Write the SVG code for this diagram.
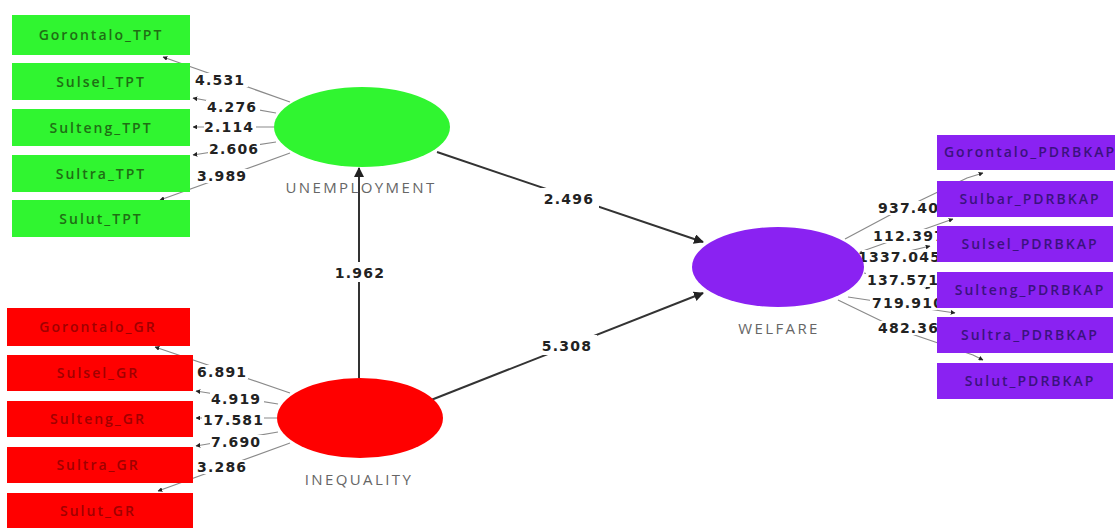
<svg xmlns="http://www.w3.org/2000/svg" width="1115" height="528" viewBox="0 0 1115 528">
<defs>
<marker id="ah" viewBox="0 0 10 10" refX="9" refY="5" markerWidth="5" markerHeight="5" orient="auto"><path d="M0,0 L10,5 L0,10 z" fill="#222"/></marker>
<marker id="sh" viewBox="0 0 10 10" refX="9" refY="5" markerWidth="4" markerHeight="4" orient="auto"><path d="M0,0 L10,5 L0,10 z" fill="#222"/></marker>
<style>
.ld{stroke:#8a8a8a;stroke-width:1.2;fill:none;marker-end:url(#sh)}
.pa{stroke:#333;stroke-width:2;fill:none;marker-end:url(#ah)}
.num{font-family:"DejaVu Sans","Liberation Sans",sans-serif;font-size:14px;font-weight:bold;fill:#222;letter-spacing:1.2px}
.lab{font-family:"Open Sans","Liberation Sans",sans-serif;font-size:15px;fill:#666;text-anchor:middle;letter-spacing:2.4px}
.bt{font-family:"Open Sans","Liberation Sans",sans-serif;font-size:14px;font-weight:600;text-anchor:middle;letter-spacing:2px}
.g{fill:#30f530}.gt{fill:#1f6e14}
.r{fill:#ff0000}.rt{fill:#a00000}
.p{fill:#8a22f2}.pt{fill:#3b127e}
</style>
</defs>
<rect width="1115" height="528" fill="#fff"/>
<g id="connectors">
<line class="ld" x1="290" y1="102" x2="163" y2="57"/>
<line class="ld" x1="276" y1="113" x2="193" y2="98"/>
<line class="ld" x1="274" y1="127" x2="193" y2="127"/>
<line class="ld" x1="276" y1="142" x2="193" y2="155"/>
<line class="ld" x1="290" y1="153" x2="160" y2="200"/>
<line class="ld" x1="290" y1="393" x2="155" y2="347"/>
<line class="ld" x1="278" y1="404" x2="196" y2="391"/>
<line class="ld" x1="277" y1="418" x2="196" y2="418"/>
<line class="ld" x1="278" y1="432" x2="196" y2="446"/>
<line class="ld" x1="290" y1="443" x2="158" y2="491"/>
<polyline class="ld" points="845,239 890,215 967,178 983,173"/>
<line class="ld" x1="860" y1="252" x2="953" y2="219"/>
<line class="ld" x1="864" y1="262" x2="930" y2="246"/>
<line class="ld" x1="864" y1="273" x2="930" y2="288"/>
<line class="ld" x1="848" y1="297" x2="955" y2="313"/>
<polyline class="ld" points="838,300 900,330 973,355 983,360"/>
<line class="pa" x1="437" y1="152" x2="703" y2="242"/>
<line class="pa" x1="359" y1="378" x2="359" y2="168"/>
<line class="pa" x1="426" y1="402" x2="703" y2="293"/>
<rect x="539" y="188" width="60" height="20" fill="#fff"/>
<text class="num" x="569" y="204" text-anchor="middle">2.496</text>
<rect x="333" y="262" width="54" height="20" fill="#fff"/>
<text class="num" x="360" y="278" text-anchor="middle">1.962</text>
<rect x="537" y="335" width="60" height="20" fill="#fff"/>
<text class="num" x="567" y="351" text-anchor="middle">5.308</text>
</g>
<g id="loadings">
<g fill="#fff"><rect x="196" y="73" width="52" height="14"/><rect x="206" y="100" width="54" height="14"/><rect x="204" y="121" width="52" height="14"/><rect x="208" y="142" width="52" height="14"/><rect x="196" y="169" width="52" height="14"/>
<rect x="196" y="365" width="52" height="14"/><rect x="210" y="392" width="54" height="14"/><rect x="202" y="413" width="62" height="14"/><rect x="210" y="435" width="54" height="14"/><rect x="196" y="460" width="52" height="14"/>
<rect x="876" y="201" width="62" height="14"/><rect x="871" y="229" width="66" height="14"/><rect x="862" y="250" width="75" height="14"/><rect x="866" y="273" width="71" height="14"/><rect x="870" y="296" width="67" height="14"/><rect x="876" y="321" width="61" height="14"/></g>
<text class="num" x="195" y="85">4.531</text>
<text class="num" x="207" y="112">4.276</text>
<text class="num" x="204" y="132">2.114</text>
<text class="num" x="209" y="154">2.606</text>
<text class="num" x="197" y="181">3.989</text>
<text class="num" x="197" y="377">6.891</text>
<text class="num" x="211" y="404">4.919</text>
<text class="num" x="203" y="425">17.581</text>
<text class="num" x="211" y="447">7.690</text>
<text class="num" x="197" y="472">3.286</text>
<text class="num" x="878" y="213">937.401</text>
<text class="num" x="873" y="241">112.397</text>
<text class="num" x="858" y="262">1337.045</text>
<text class="num" x="867" y="285">137.571</text>
<text class="num" x="872" y="308">719.910</text>
<text class="num" x="878" y="333">482.361</text>
</g>
<g id="UNEMPLOYMENT"><ellipse class="g" cx="362" cy="127" rx="88" ry="40"/><text class="lab" x="361" y="193">UNEMPLOYMENT</text></g>
<g id="INEQUALITY"><ellipse class="r" cx="360" cy="418" rx="83" ry="40"/><text class="lab" x="359" y="485">INEQUALITY</text></g>
<g id="WELFARE"><ellipse class="p" cx="778" cy="267" rx="86" ry="40"/><text class="lab" x="779" y="334">WELFARE</text></g>
<g id="Gorontalo_TPT"><rect class="g" x="12" y="15" width="178" height="40"/><text class="bt gt" x="101" y="40">Gorontalo_TPT</text></g>
<g id="Sulsel_TPT"><rect class="g" x="12" y="63" width="178" height="37"/><text class="bt gt" x="101" y="87">Sulsel_TPT</text></g>
<g id="Sulteng_TPT"><rect class="g" x="12" y="109" width="178" height="37"/><text class="bt gt" x="101" y="133">Sulteng_TPT</text></g>
<g id="Sultra_TPT"><rect class="g" x="12" y="155" width="178" height="37"/><text class="bt gt" x="101" y="179">Sultra_TPT</text></g>
<g id="Sulut_TPT"><rect class="g" x="12" y="200" width="178" height="37"/><text class="bt gt" x="101" y="224">Sulut_TPT</text></g>
<g id="Gorontalo_GR"><rect class="r" x="7" y="308" width="183" height="38"/><text class="bt rt" x="98" y="332">Gorontalo_GR</text></g>
<g id="Sulsel_GR"><rect class="r" x="7" y="355" width="186" height="36"/><text class="bt rt" x="98" y="378">Sulsel_GR</text></g>
<g id="Sulteng_GR"><rect class="r" x="7" y="401" width="186" height="36"/><text class="bt rt" x="98" y="424">Sulteng_GR</text></g>
<g id="Sultra_GR"><rect class="r" x="7" y="447" width="186" height="36"/><text class="bt rt" x="98" y="470">Sultra_GR</text></g>
<g id="Sulut_GR"><rect class="r" x="7" y="493" width="186" height="35"/><text class="bt rt" x="98" y="516">Sulut_GR</text></g>
<g id="Gorontalo_PDRBKAP"><rect class="p" x="937" y="135" width="178" height="35"/><text class="bt pt" x="1030" y="157">Gorontalo_PDRBKAP</text></g>
<g id="Sulbar_PDRBKAP"><rect class="p" x="937" y="181" width="176" height="36"/><text class="bt pt" x="1030" y="204">Sulbar_PDRBKAP</text></g>
<g id="Sulsel_PDRBKAP"><rect class="p" x="937" y="226" width="176" height="36"/><text class="bt pt" x="1030" y="249">Sulsel_PDRBKAP</text></g>
<g id="Sulteng_PDRBKAP"><rect class="p" x="937" y="272" width="176" height="36"/><text class="bt pt" x="1030" y="295">Sulteng_PDRBKAP</text></g>
<g id="Sultra_PDRBKAP"><rect class="p" x="937" y="317" width="176" height="36"/><text class="bt pt" x="1030" y="340">Sultra_PDRBKAP</text></g>
<g id="Sulut_PDRBKAP"><rect class="p" x="937" y="363" width="176" height="36"/><text class="bt pt" x="1030" y="386">Sulut_PDRBKAP</text></g>
</svg>
